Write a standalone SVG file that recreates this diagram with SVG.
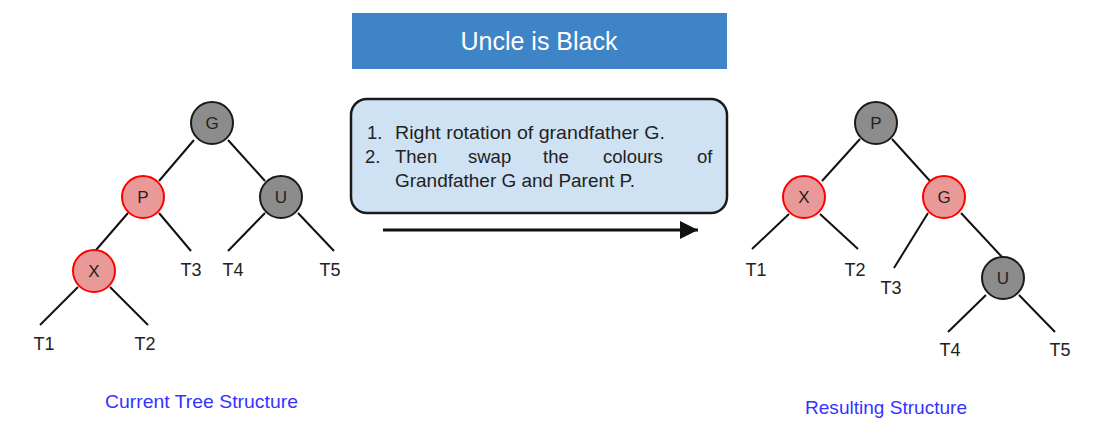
<svg xmlns="http://www.w3.org/2000/svg" width="1100" height="433" viewBox="0 0 1100 433">
<defs>
<style>
.blk{fill:#8c8c8c;stroke:#1a1a1a;stroke-width:2}
.red{fill:#ea9999;stroke:#ff0000;stroke-width:2}
.lbl{font-family:"Liberation Sans",Arial,sans-serif;font-size:18px;fill:#222;text-anchor:middle}
.t{font-family:"Liberation Sans",Arial,sans-serif;font-size:17px;fill:#222;text-anchor:middle}
.edge{stroke:#111;stroke-width:2;fill:none}
.cap{font-family:"Liberation Sans",Arial,sans-serif;font-size:19px;fill:#3333ff}
.box{font-family:"Liberation Sans",Arial,sans-serif;font-size:18.5px;fill:#222}
</style>
<marker id="ah" viewBox="0 0 10 10" refX="10" refY="5" markerWidth="6" markerHeight="6" markerUnits="strokeWidth" orient="auto">
<path d="M0,0 L10,5 L0,10 z" fill="#111"/>
</marker>
</defs>
<rect width="1100" height="433" fill="#ffffff"/>

<g id="connectors">
<line class="edge" x1="194" y1="140" x2="159" y2="181"/>
<line class="edge" x1="228" y1="140" x2="265" y2="181"/>
<line class="edge" x1="128" y1="213" x2="96" y2="250"/>
<line class="edge" x1="159" y1="213" x2="191" y2="251"/>
<line class="edge" x1="265" y1="213" x2="228" y2="251"/>
<line class="edge" x1="298" y1="213" x2="334" y2="251"/>
<line class="edge" x1="78" y1="287" x2="40" y2="325"/>
<line class="edge" x1="110" y1="287" x2="148" y2="325"/>
<line class="edge" x1="860" y1="139" x2="822" y2="181"/>
<line class="edge" x1="892" y1="139" x2="930" y2="181"/>
<line class="edge" x1="789" y1="214" x2="752" y2="249"/>
<line class="edge" x1="820" y1="214" x2="858" y2="249"/>
<line class="edge" x1="928" y1="213" x2="894" y2="268"/>
<line class="edge" x1="961" y1="213" x2="1002" y2="257"/>
<line class="edge" x1="986" y1="295" x2="948" y2="332"/>
<line class="edge" x1="1019" y1="295" x2="1055" y2="332"/>
<line x1="383" y1="230" x2="698" y2="230" stroke="#111" stroke-width="3" marker-end="url(#ah)"/>
</g>

<g id="header">
<rect x="352" y="13" width="375" height="56" fill="#3f84c6"/>
<text x="539" y="50" font-family="Liberation Sans,Arial,sans-serif" font-size="25" fill="#ffffff" text-anchor="middle">Uncle is Black</text>
</g>

<g id="steps">
<rect x="351" y="99" width="376" height="114" rx="16" ry="16" fill="#cfe2f3" stroke="#1a1a1a" stroke-width="2.5"/>
<text class="box" x="367" y="139">1.</text>
<text class="box" x="395" y="139" textLength="270" lengthAdjust="spacingAndGlyphs">Right rotation of grandfather G.</text>
<text class="box" x="365" y="163">2.</text>
<text class="box" x="395" y="163">Then</text>
<text class="box" x="468" y="163">swap</text>
<text class="box" x="543" y="163">the</text>
<text class="box" x="603" y="163">colours</text>
<text class="box" x="697" y="163">of</text>
<text class="box" x="395" y="187" textLength="240" lengthAdjust="spacingAndGlyphs">Grandfather G and Parent P.</text>
</g>

<g id="L-G"><circle class="blk" cx="212" cy="123" r="21"/><text class="t" x="212" y="129">G</text></g>
<g id="L-P"><circle class="red" cx="143" cy="197" r="21"/><text class="t" x="143" y="203">P</text></g>
<g id="L-U"><circle class="blk" cx="281" cy="197" r="21"/><text class="t" x="281" y="203">U</text></g>
<g id="L-X"><circle class="red" cx="94" cy="271" r="21"/><text class="t" x="94" y="277">X</text></g>
<g id="L-T1"><text class="lbl" x="44" y="350">T1</text></g>
<g id="L-T2"><text class="lbl" x="145" y="350">T2</text></g>
<g id="L-T3"><text class="lbl" x="191" y="276">T3</text></g>
<g id="L-T4"><text class="lbl" x="233" y="276">T4</text></g>
<g id="L-T5"><text class="lbl" x="330" y="276">T5</text></g>
<g id="L-caption"><text class="cap" x="105" y="408" textLength="193" lengthAdjust="spacingAndGlyphs">Current Tree Structure</text></g>

<g id="R-P"><circle class="blk" cx="876" cy="123" r="21"/><text class="t" x="876" y="129">P</text></g>
<g id="R-X"><circle class="red" cx="804" cy="197" r="21"/><text class="t" x="804" y="203">X</text></g>
<g id="R-G"><circle class="red" cx="944" cy="197" r="21"/><text class="t" x="944" y="203">G</text></g>
<g id="R-U"><circle class="blk" cx="1003" cy="278" r="21"/><text class="t" x="1003" y="284">U</text></g>
<g id="R-T1"><text class="lbl" x="756" y="276">T1</text></g>
<g id="R-T2"><text class="lbl" x="855" y="276">T2</text></g>
<g id="R-T3"><text class="lbl" x="891" y="294">T3</text></g>
<g id="R-T4"><text class="lbl" x="950" y="356">T4</text></g>
<g id="R-T5"><text class="lbl" x="1060" y="356">T5</text></g>
<g id="R-caption"><text class="cap" x="805" y="414" textLength="162" lengthAdjust="spacingAndGlyphs">Resulting Structure</text></g>
</svg>
